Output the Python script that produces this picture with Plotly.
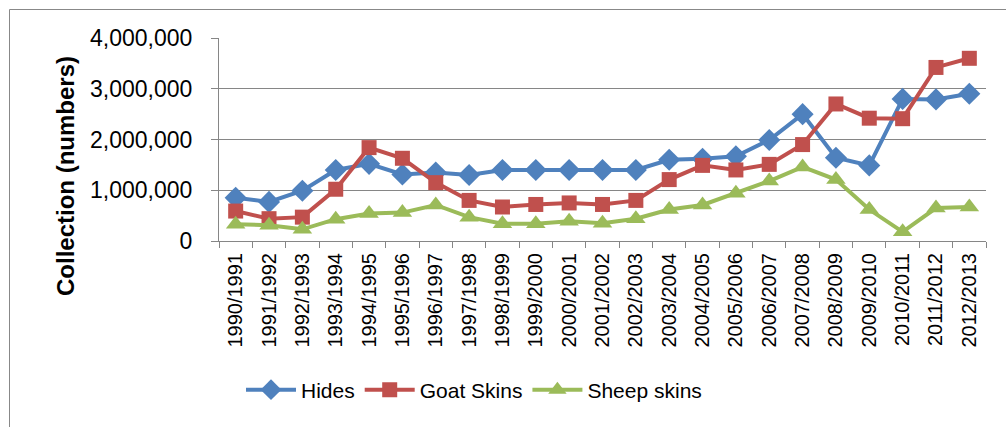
import plotly.graph_objects as go

years = ["1990/1991", "1991/1992", "1992/1993", "1993/1994", "1994/1995", "1995/1996",
         "1996/1997", "1997/1998", "1998/1999", "1999/2000", "2000/2001", "2001/2002",
         "2002/2003", "2003/2004", "2004/2005", "2005/2006", "2006/2007", "2007/2008",
         "2008/2009", "2009/2010", "2010/2011", "2011/2012", "2012/2013"]

hides = [850000, 770000, 990000, 1400000, 1520000, 1310000, 1350000, 1300000, 1400000,
         1400000, 1400000, 1400000, 1400000, 1600000, 1620000, 1670000, 1990000, 2500000,
         1640000, 1490000, 2800000, 2790000, 2900000]

goat = [590000, 440000, 470000, 1020000, 1840000, 1630000, 1150000, 800000, 670000,
        720000, 750000, 720000, 800000, 1210000, 1490000, 1400000, 1510000, 1900000,
        2700000, 2420000, 2410000, 3420000, 3600000]

sheep = [330000, 310000, 230000, 430000, 540000, 560000, 710000, 470000, 340000,
         340000, 390000, 350000, 440000, 620000, 710000, 940000, 1180000, 1460000,
         1210000, 620000, 180000, 650000, 670000]

W, H = 1006, 427
L, R, T, B = 219, 20, 38, 186
pw, ph = W - L - R, H - T - B

FONT = "Liberation Sans"

fig = go.Figure()
fig.add_trace(go.Scatter(x=years, y=hides, name="Hides", mode="lines+markers",
                         line=dict(color="#4F81BD", width=4),
                         marker=dict(symbol="diamond", size=17, color="#4F81BD")))
fig.add_trace(go.Scatter(x=years, y=goat, name="Goat Skins", mode="lines+markers",
                         line=dict(color="#C0504D", width=4),
                         marker=dict(symbol="square", size=15, color="#C0504D")))
fig.add_trace(go.Scatter(x=years, y=sheep, name="Sheep skins", mode="lines+markers",
                         line=dict(color="#9BBB59", width=4),
                         marker=dict(symbol="triangle-up", size=17, color="#9BBB59")))

fig.update_layout(
    width=W, height=H,
    margin=dict(l=L, r=R, t=T, b=B, autoexpand=False),
    paper_bgcolor="white", plot_bgcolor="white",
    font=dict(family=FONT, size=20, color="black"),
    showlegend=True,
    legend=dict(orientation="h", x=(474 - L) / pw, xanchor="center",
                y=-(390 - (T + ph)) / ph, yanchor="middle",
                font=dict(family=FONT, size=21), bgcolor="rgba(0,0,0,0)",
                itemwidth=50, tracegroupgap=0),
    xaxis=dict(type="category", tickangle=-90, showgrid=False,
               showline=True, linecolor="#868686", linewidth=1,
               ticks="outside", tickson="boundaries", ticklen=6, tickcolor="#868686",
               ticklabelstandoff=3,
               tickfont=dict(family=FONT, size=20), range=[-0.5, 22.5], fixedrange=True),
    yaxis=dict(range=[0, 4000000], dtick=1000000, tickformat=",",
               showgrid=True, gridcolor="#868686", gridwidth=1,
               showline=True, linecolor="#868686", linewidth=1,
               ticks="outside", ticklen=7, tickcolor="#868686",
               ticklabelstandoff=14, zeroline=False,
               tickfont=dict(family=FONT, size=23), fixedrange=True),
    annotations=[dict(text="<b>Collection (numbers)</b>", textangle=-90,
                      xref="paper", yref="paper", x=(65 - L) / pw, y=(T + ph - 176) / ph,
                      xanchor="center", yanchor="middle", showarrow=False,
                      font=dict(family=FONT, size=24, color="black"))],
    shapes=[dict(type="rect", xref="paper", yref="paper",
                 x0=(9.5 - L) / pw, x1=1.2, y0=-1.5, y1=1 + (T - 9.5) / ph,
                 line=dict(color="#888888", width=1), fillcolor="rgba(0,0,0,0)", layer="below")],
)

fig.write_html("out.html")
